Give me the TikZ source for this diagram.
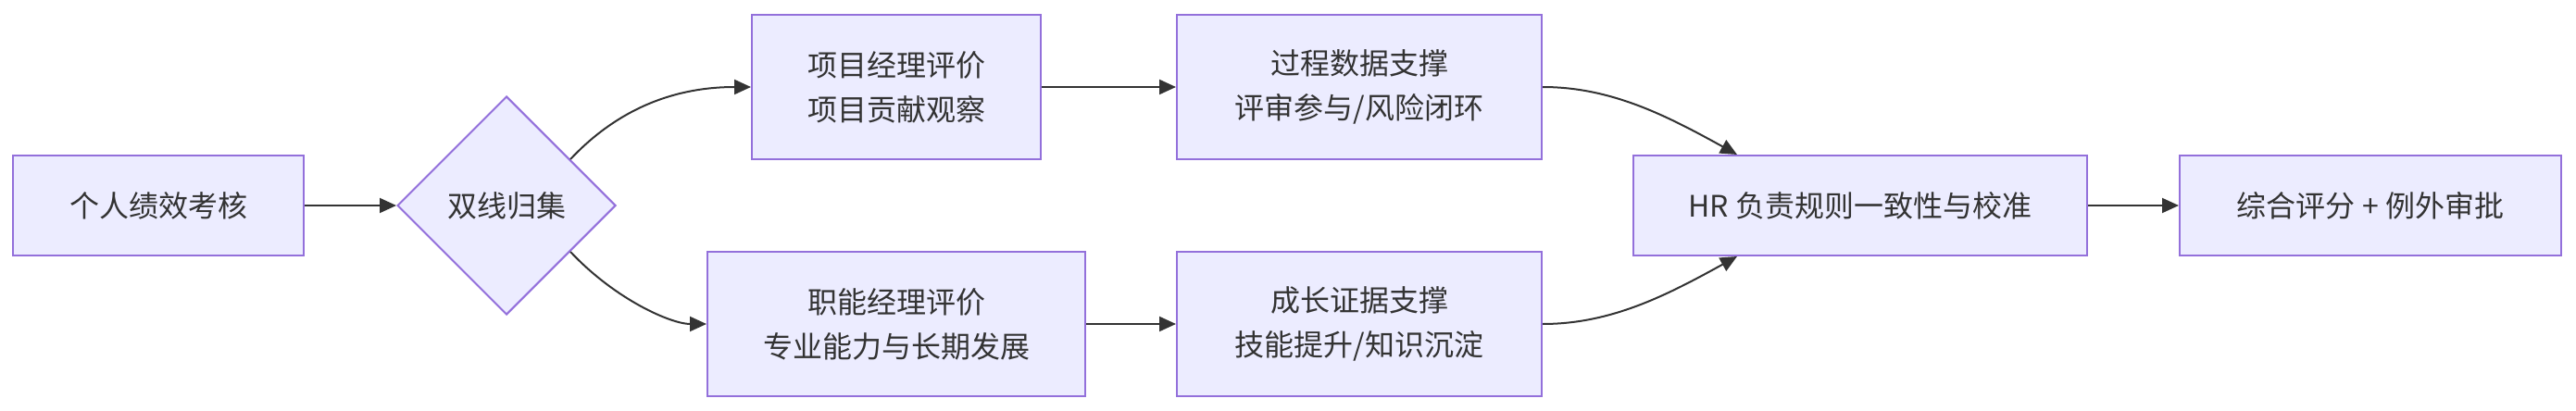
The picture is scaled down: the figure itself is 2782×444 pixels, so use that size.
\documentclass[tikz,border=0pt]{standalone}
\usepackage{fontspec}
\setmainfont{Noto Sans CJK SC}
\usetikzlibrary{shapes.geometric,arrows.meta,calc}
\definecolor{nodefill}{HTML}{ECECFF}
\definecolor{nodeline}{HTML}{9370DB}
\definecolor{ink}{HTML}{333333}
\tikzset{
  box/.style={draw=nodeline, fill=nodefill, line width=2pt, rectangle, inner sep=0pt,
    text=ink, align=center, font=\fontsize{32}{48}\selectfont},
  dia/.style={draw=nodeline, fill=nodefill, line width=2pt, diamond, aspect=1, inner sep=0pt,
    minimum width=236pt, minimum height=236pt, text=ink, font=\fontsize{32}{48}\selectfont},
  link/.style={draw=ink, line width=2pt, -{Triangle[length=18pt,width=16pt]}}
}
\begin{document}
\begin{tikzpicture}[x=1pt,y=-1pt]
\useasboundingbox (0,0) rectangle (2782,444);
\node[box, minimum width=314pt, minimum height=108pt] (a) at (171,222) {个人绩效考核};
\node[dia] (d) at (547,222) {双线归集};
\node[box, minimum width=312pt, minimum height=156pt] (pm) at (968,94) {项目经理评价\\项目贡献观察};
\node[box, minimum width=394pt, minimum height=156pt] (pd) at (1468,94) {过程数据支撑\\评审参与/风险闭环};
\node[box, minimum width=408pt, minimum height=156pt] (fm) at (968,350) {职能经理评价\\专业能力与长期发展};
\node[box, minimum width=394pt, minimum height=156pt] (gd) at (1468,350) {成长证据支撑\\技能提升/知识沉淀};
\node[box, minimum width=490pt, minimum height=108pt] (hr) at (2009,222) {HR 负责规则一致性与校准};
\node[box, minimum width=412pt, minimum height=108pt] (fin) at (2560,222) {综合评分 + 例外审批};

\coordinate (d1) at ($(d.east)!0.42!(d.north)$);
\coordinate (d2) at ($(d.east)!0.42!(d.south)$);
\coordinate (h1) at ([xshift=-133pt]hr.north);
\coordinate (h2) at ([xshift=-133pt]hr.south);

\draw[link] (a.east) -- (d.west);
\draw[link] (d1) .. controls (665,120) and (725,94) .. (pm.west);
\draw[link] (d2) .. controls (665,324) and (725,350) .. (fm.west);
\draw[link] (pm.east) -- (pd.west);
\draw[link] (fm.east) -- (gd.west);
\draw[link] (pd.east) .. controls (1740,94) and (1800,125) .. (h1);
\draw[link] (gd.east) .. controls (1740,350) and (1800,319) .. (h2);
\draw[link] (hr.east) -- (fin.west);
\end{tikzpicture}
\end{document}
